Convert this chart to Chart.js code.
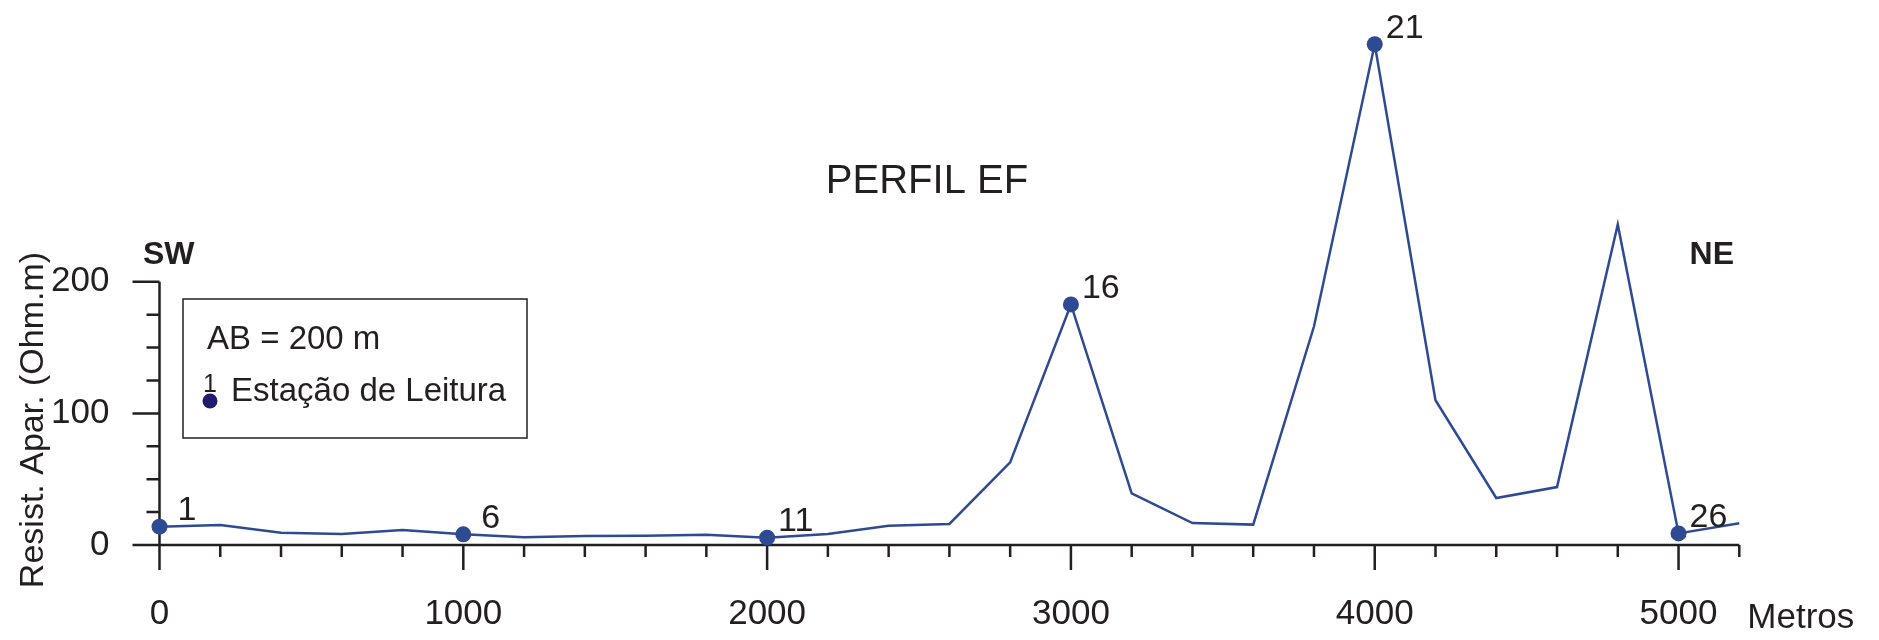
<!DOCTYPE html>
<html>
<head>
<meta charset="utf-8">
<script src="https://cdn.jsdelivr.net/npm/chart.js@4.4.1/dist/chart.umd.min.js"></script>
<style>
  html, body { margin: 0; padding: 0; background: #fff; }
</style>
</head>
<body>
<canvas id="Chart" width="1879" height="640"></canvas>
<script>
// distance along the profile (m) and apparent resistivity (Ohm.m)
const distances = [0, 200, 400, 600, 800, 1000, 1200, 1400, 1600, 1800, 2000, 2200, 2400, 2600,
                   2800, 3000, 3200, 3400, 3600, 3800, 4000, 4200, 4400, 4600, 4800, 5000, 5200];
const resistivity = [13.9, 15.2, 9.4, 8.4, 11.4, 8.1, 5.8, 6.8, 7.1, 7.8, 5.6, 8.4, 14.7, 16,
                     62.8, 182.8, 39.3, 16.7, 15.5, 166, 380.5, 110, 35.7, 44, 243.5, 8.8, 16.5];

// reading stations that get a dot and a number
const stationIndex = [0, 5, 10, 15, 20, 25];
const stationLabels = ['1', '6', '11', '16', '21', '26'];

// tick labels
const xTickLabels = [0, 1000, 2000, 3000, 4000, 5000];
const yTickLabels = [0, 100, 200];
const xMinorStep = 200, xAxisEnd = 5200;
const yMinorStep = 25, yAxisTop = 200;

const ink = '#231f20';
const lineBlue = '#2e4a93';
const fontFam = "Arial, 'Liberation Sans', Helvetica, sans-serif";

const profileDecor = {
    id: 'profileDecor',
    beforeDatasetsDraw(chart) {
        const ctx = chart.ctx, xs = chart.scales.x, ys = chart.scales.y;
        const x0 = xs.getPixelForValue(0), y0 = ys.getPixelForValue(0);
        ctx.save();
        ctx.strokeStyle = ink;
        ctx.lineWidth = 2.5;
        ctx.beginPath();
        // axis lines
        ctx.moveTo(x0, ys.getPixelForValue(yAxisTop));
        ctx.lineTo(x0, y0);
        ctx.moveTo(x0, y0);
        ctx.lineTo(xs.getPixelForValue(xAxisEnd), y0);
        // y ticks (to the left)
        for (let v = 0; v <= yAxisTop; v += yMinorStep) {
            const len = v % 100 === 0 ? 27 : 13;
            const y = ys.getPixelForValue(v);
            ctx.moveTo(x0 - len, y);
            ctx.lineTo(x0, y);
        }
        // x ticks (downwards)
        for (let v = 0; v <= xAxisEnd; v += xMinorStep) {
            const len = v % 1000 === 0 ? 25 : 12;
            const x = xs.getPixelForValue(v);
            ctx.moveTo(x, y0);
            ctx.lineTo(x, y0 + len);
        }
        ctx.stroke();
        ctx.restore();
    },
    afterDatasetsDraw(chart) {
        const ctx = chart.ctx, area = chart.chartArea;
        ctx.save();
        ctx.fillStyle = ink;
        ctx.textBaseline = 'alphabetic';

        // title
        ctx.font = '40px ' + fontFam;
        ctx.textAlign = 'center';
        ctx.fillText('PERFIL EF', 927, 193);

        // SW / NE
        ctx.font = 'bold 32px ' + fontFam;
        ctx.textAlign = 'left';
        ctx.fillText('SW', 143, 264);
        ctx.textAlign = 'right';
        ctx.fillText('NE', 1734, 264);

        // y axis title
        ctx.save();
        ctx.font = '34px ' + fontFam;
        ctx.textAlign = 'center';
        ctx.translate(43, 420);
        ctx.rotate(-Math.PI / 2);
        ctx.fillText('Resist. Apar. (Ohm.m)', 0, 0);
        ctx.restore();

        // x unit
        ctx.font = '35px ' + fontFam;
        ctx.textAlign = 'left';
        ctx.fillText('Metros', area.right + 8, 628);

        // legend box
        ctx.strokeStyle = ink;
        ctx.lineWidth = 1.5;
        ctx.strokeRect(183, 299, 344, 139);
        ctx.font = '33px ' + fontFam;
        ctx.fillText('AB = 200 m', 207, 349);
        ctx.fillText('Estação de Leitura', 231, 401);
        ctx.font = '25px ' + fontFam;
        ctx.textAlign = 'center';
        ctx.fillText('1', 210, 392);
        ctx.fillStyle = '#211c6d';
        ctx.beginPath();
        ctx.arc(210, 401, 7.5, 0, Math.PI * 2);
        ctx.fill();

        // station numbers
        ctx.fillStyle = ink;
        ctx.font = '34px ' + fontFam;
        ctx.textAlign = 'left';
        const pts = chart.getDatasetMeta(0).data;
        stationIndex.forEach((idx, k) => {
            const label = stationLabels[k];
            const p = pts[idx];
            ctx.fillText(label, p.x + (label.length === 1 ? 18 : 11), p.y - 6.5);
        });
        ctx.restore();
    }
};

new Chart('Chart', {
    type: 'line',
    data: {
        datasets: [{
            data: distances.map((d, i) => ({ x: d, y: resistivity[i] })),
            borderColor: lineBlue,
            borderWidth: 2.5,
            tension: 0,
            fill: false,
            clip: false,
            pointRadius: (c) => stationIndex.includes(c.dataIndex) ? 8 : 0,
            pointBackgroundColor: lineBlue,
            pointBorderWidth: 0,
            pointHoverRadius: 0
        }]
    },
    options: {
        responsive: false,
        animation: false,
        devicePixelRatio: 1,
        layout: { padding: { top: 18.6, right: 139.7, left: 0, bottom: 0 } },
        plugins: { legend: { display: false }, tooltip: { enabled: false } },
        scales: {
            x: {
                type: 'linear',
                min: 0,
                max: xAxisEnd,
                afterBuildTicks: (s) => { s.ticks = xTickLabels.map(v => ({ value: v })); },
                afterFit: (s) => { s.height = 95; s.paddingLeft = 0; s.paddingRight = 0; },
                grid: { display: false, drawTicks: false },
                border: { display: false },
                ticks: {
                    color: ink, font: { size: 35, family: fontFam }, padding: 48,
                    maxRotation: 0, autoSkip: false,
                    callback: (v) => String(v)
                }
            },
            y: {
                type: 'linear',
                min: 0,
                max: 400,
                afterBuildTicks: (s) => { s.ticks = yTickLabels.map(v => ({ value: v })); },
                afterFit: (s) => { s.width = 159.5; s.paddingTop = 0; s.paddingBottom = 0; },
                grid: { display: false, drawTicks: false },
                border: { display: false },
                ticks: {
                    color: ink, font: { size: 35, family: fontFam }, padding: 50,
                    callback: (v) => String(v)
                }
            }
        }
    },
    plugins: [profileDecor]
});
</script>
</body>
</html>
